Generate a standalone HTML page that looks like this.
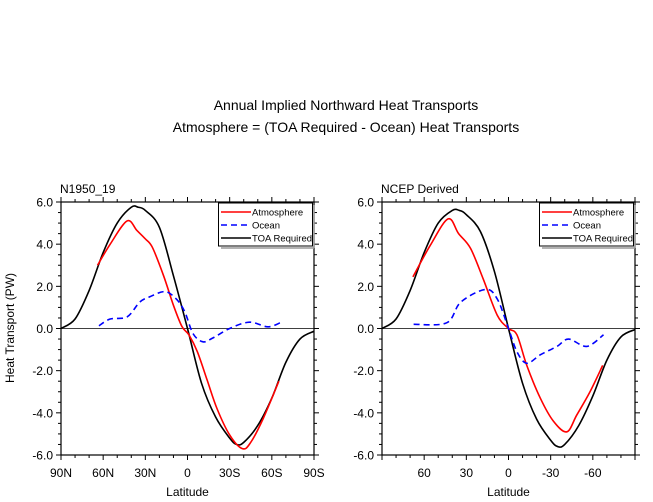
<!DOCTYPE html>
<html><head><meta charset="utf-8"><style>
body{margin:0;background:#fff}
svg{display:block;font-family:"Liberation Sans",sans-serif}
</style></head><body>
<svg id="chart" width="653" height="502">
<text x="346" y="110" font-size="14" text-anchor="middle">Annual Implied Northward Heat Transports</text>
<text x="346" y="132" font-size="14" text-anchor="middle">Atmosphere = (TOA Required - Ocean) Heat Transports</text>
<text x="14" y="328" font-size="12" text-anchor="middle" transform="rotate(-90 14 328)">Heat Transport (PW)</text>
</svg>
<script>
// shared y ticks
const yTicks=[-6,-4,-2,0,2,4,6];
const yTickLabels=["-6.0","-4.0","-2.0","0.0","2.0","4.0","6.0"];
// left panel (N1950_19)
const leftXTicks=[90,60,30,0,-30,-60,-90];
const leftXLabels=["90N","60N","30N","0","30S","60S","90S"];
const leftToaLat=[90,80,70,60,50,40,35,30,20,10,0,-10,-20,-30,-35,-40,-50,-60,-70,-80,-90];
const leftToaVal=[0,0.45,1.8,3.6,5.0,5.75,5.75,5.6,4.8,2.5,0,-2.6,-4.2,-5.2,-5.5,-5.4,-4.6,-3.3,-1.6,-0.5,-0.13];
const leftAtmLat=[64,55,43,36,30,25,17,10,4,-1,-7,-14,-21,-30,-39,-45,-54,-65];
const leftAtmVal=[3.0,4.0,5.1,4.65,4.25,3.85,2.5,1.1,0.1,-0.3,-1.1,-2.45,-3.8,-5.05,-5.7,-5.4,-4.25,-2.5];
const leftOcnLat=[63,55,43,34,27,16,8,2,-4,-11,-18,-30,-44,-57,-66];
const leftOcnVal=[0.13,0.45,0.55,1.25,1.5,1.75,1.4,0.8,-0.25,-0.63,-0.45,0,0.3,0.08,0.27];
// right panel (NCEP Derived)
const rightXTicks=[60,30,0,-30,-60];
const rightXLabels=["60","30","0","-30","-60"];
const rightToaLat=[90,80,70,60,50,40,35,30,20,10,0,-10,-20,-30,-35,-40,-50,-60,-70,-80,-90];
const rightToaVal=[0,0.45,1.8,3.6,5.0,5.6,5.6,5.4,4.6,2.7,0,-2.6,-4.3,-5.3,-5.6,-5.5,-4.6,-3.2,-1.5,-0.4,-0.05];
const rightAtmLat=[68,55.6,43,35.5,27,18,8,0,-6,-13,-22.6,-32,-41.5,-48.6,-58,-67];
const rightAtmVal=[2.45,3.95,5.2,4.5,3.8,2.35,0.63,0,-0.3,-1.75,-3.3,-4.4,-4.9,-4.1,-3.0,-1.75];
const rightOcnLat=[67.5,44,34,16.5,8,0,-6,-13,-22.6,-34.5,-42.7,-55.7,-67.6];
const rightOcnVal=[0.2,0.27,1.25,1.85,1.4,0,-1.1,-1.65,-1.25,-0.85,-0.5,-0.85,-0.3];

const NS="http://www.w3.org/2000/svg";
const svg=document.getElementById('chart');
function mk(tag,attrs,parent){const e=document.createElementNS(NS,tag);for(const k in attrs)e.setAttribute(k,attrs[k]);(parent||svg).appendChild(e);return e;}
function smooth(pts){let d="M"+pts[0][0]+","+pts[0][1];for(let i=0;i<pts.length-1;i++){const p0=pts[Math.max(0,i-1)],p1=pts[i],p2=pts[i+1],p3=pts[Math.min(pts.length-1,i+2)];
const c1=[p1[0]+(p2[0]-p0[0])/6,p1[1]+(p2[1]-p0[1])/6],c2=[p2[0]-(p3[0]-p1[0])/6,p2[1]-(p3[1]-p1[1])/6];
d+=" C"+c1[0]+","+c1[1]+" "+c2[0]+","+c2[1]+" "+p2[0]+","+p2[1];}return d;}

function panel(name,x0,title,xt,xl,toa,atm,ocn){
  const x1=x0+253,y0=202,y1=455;
  const X=lat=>x0+(90-lat)/180*253;
  const Y=v=>y0+(6-v)/12*(y1-y0);
  const g=mk('g',{});
  
  
  const t=mk('text',{x:x0-1,y:193,'font-size':12},g);t.textContent=title;
  
  const z=mk('line',{x1:x0,x2:x1,y1:Y(0),y2:Y(0),stroke:'#000','stroke-width':0.8},g);
  
  for(let v=-6;v<=6.001;v+=0.5){const maj=Math.abs(v%2)<1e-6;const L=maj?5:3;
    mk('line',{x1:x0-L,x2:x0,y1:Y(v),y2:Y(v),stroke:'#000','stroke-width':1},g);
    mk('line',{x1:x1,x2:x1+L,y1:Y(v),y2:Y(v),stroke:'#000','stroke-width':1},g);}
  for(let la=-90;la<=90;la+=10){const maj=la%30===0;const L=maj?5:3;
    mk('line',{x1:X(la),x2:X(la),y1:y1,y2:y1+L,stroke:'#000','stroke-width':1},g);
    mk('line',{x1:X(la),x2:X(la),y1:y0-L,y2:y0,stroke:'#000','stroke-width':1},g);}
  yTicks.forEach((v,i)=>{const tt=mk('text',{x:x0-8,y:Y(v)+4.5,'font-size':12,'text-anchor':'end'},g);tt.textContent=yTickLabels[i];
    });
  xt.forEach((la,i)=>{const tt=mk('text',{x:X(la),y:477,'font-size':12,'text-anchor':'middle'},g);tt.textContent=xl[i];
    });
  const xa=mk('text',{x:(x0+x1)/2,y:496,'font-size':12,'text-anchor':'middle'},g);xa.textContent='Latitude';
  
  const series=[[toa,'#000',null,'toa-line'],[atm,'#f00',null,'atmosphere-line'],[ocn,'#00f','6 4','ocean-line']];
  series.forEach(s=>{const pts=s[0][0].map((la,i)=>[X(la),Y(s[0][1][i])]);
    const p=mk('path',{d:smooth(pts),fill:'none',stroke:s[1],'stroke-width':1.6},g);
    if(s[2])p.setAttribute('stroke-dasharray',s[2]);
    });
  const f=mk('rect',{x:x0,y:y0,width:253,height:y1-y0,fill:'none',stroke:'#000','stroke-width':1.2},g);
  
  const lx=x1-96,lg=mk('g',{},g);
  
  mk('rect',{x:lx+0.5,y:y0+1,width:94,height:43,fill:'#fff',stroke:'#000','stroke-width':1},lg);
  mk('line',{x1:lx+96,x2:lx+96,y1:y0+3,y2:y0+46,stroke:'#999','stroke-width':1.5},lg);
  mk('line',{x1:lx+3,x2:lx+96,y1:y0+46,y2:y0+46,stroke:'#999','stroke-width':1.5},lg);
  [['Atmosphere','#f00',null],['Ocean','#00f','6 4'],['TOA Required','#000',null]].forEach((e,i)=>{
    const yy=y0+10+i*13;
    const l=mk('line',{x1:lx+3,x2:lx+33,y1:yy,y2:yy,stroke:e[1],'stroke-width':1.4},lg);if(e[2])l.setAttribute('stroke-dasharray',e[2]);
    const tt=mk('text',{x:lx+34,y:yy+3.5,'font-size':9.5},lg);tt.textContent=e[0];
    });
}
panel('left',61,'N1950_19',leftXTicks,leftXLabels,[leftToaLat,leftToaVal],[leftAtmLat,leftAtmVal],[leftOcnLat,leftOcnVal]);
panel('right',382,'NCEP Derived',rightXTicks,rightXLabels,[rightToaLat,rightToaVal],[rightAtmLat,rightAtmVal],[rightOcnLat,rightOcnVal]);
</script>
</body></html>
